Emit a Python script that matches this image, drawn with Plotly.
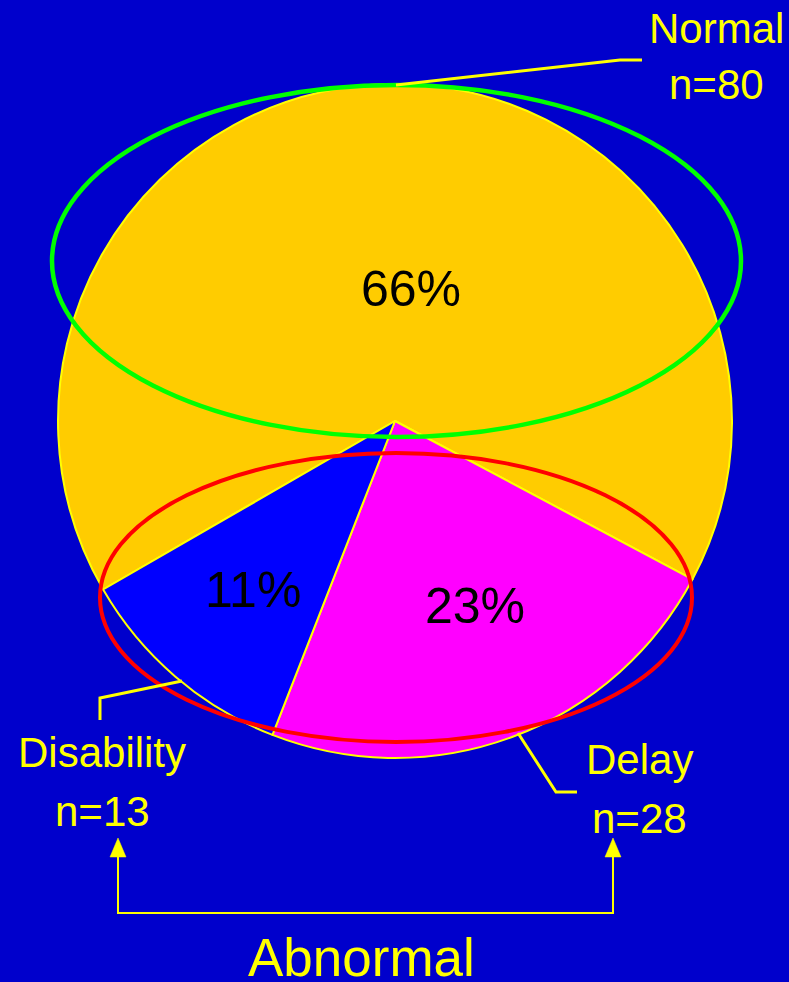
import plotly.graph_objects as go

# Group sizes (children) and slice styling
groups = ["Normal", "Delay", "Disability"]
counts = [80, 28, 13]
slice_colors = ["#FFCC00", "#FF00FF", "#0000FF"]

W, H = 789, 982
BG = "#0000CC"
YELLOW = "#FFFF00"
FONT = "Arial, Liberation Sans, sans-serif"


def px(x):
    return x / W


def py(y):
    return 1 - y / H


def path(points, close=False):
    s = "M " + " L ".join(f"{px(x):.5f},{py(y):.5f}" for x, y in points)
    return s + (" Z" if close else "")


total = sum(counts)
percents = [round(c / total * 100) for c in counts]

fig = go.Figure(
    go.Pie(
        labels=groups,
        values=counts,
        sort=False,
        direction="clockwise",
        rotation=240,
        marker=dict(colors=slice_colors, line=dict(color=YELLOW, width=2)),
        textinfo="none",
        hoverinfo="label+value+percent",
        showlegend=False,
        domain=dict(x=[px(58), px(732)], y=[py(758), py(84)]),
    )
)

shapes = []
# Group outlines: normal (green) and abnormal (red)
shapes.append(dict(type="circle", xref="paper", yref="paper",
                   x0=px(52), x1=px(741), y0=py(437), y1=py(85),
                   line=dict(color="#00FF00", width=4.5), layer="above"))
shapes.append(dict(type="circle", xref="paper", yref="paper",
                   x0=px(100), x1=px(692), y0=py(742), y1=py(453),
                   line=dict(color="#FF0000", width=4), layer="above"))

# Leader lines to the labels
for pts in ([(396, 85), (620, 60), (642, 60)],
            [(182, 681), (100, 698), (100, 720)],
            [(518, 733), (556, 792), (577, 792)]):
    shapes.append(dict(type="path", xref="paper", yref="paper", path=path(pts),
                       line=dict(color=YELLOW, width=3), layer="above"))

# Bracket joining the two abnormal groups
shapes.append(dict(type="path", xref="paper", yref="paper",
                   path=path([(118, 855), (118, 913), (613, 913), (613, 855)]),
                   line=dict(color=YELLOW, width=2), layer="above"))
for ax in (118, 613):
    shapes.append(dict(type="path", xref="paper", yref="paper",
                       path=path([(ax, 838), (ax - 8, 857), (ax + 8, 857)], close=True),
                       fillcolor=YELLOW, line=dict(color=YELLOW, width=0.5),
                       layer="above"))

annotations = []


def label(text, x, y, size, color=YELLOW):
    annotations.append(dict(text=text, x=px(x), y=py(y), xref="paper", yref="paper",
                            xanchor="center", yanchor="middle", showarrow=False,
                            font=dict(family=FONT, size=size, color=color)))


# Percentages inside the slices
pct_pos = {"Normal": (411, 289), "Delay": (475, 606), "Disability": (253, 590)}
for g, p in zip(groups, percents):
    label(f"{p}%", *pct_pos[g], 50, color="#000000")

# Group labels with counts
lab_pos = {"Normal": (716, 28, 84), "Disability": (102, 752, 811), "Delay": (639, 759, 818)}
for g, c in zip(groups, counts):
    x, y1, y2 = lab_pos[g]
    label(g, x, y1, 42)
    label(f"n={c}", x, y2, 42)

label("Abnormal", 361, 957, 53)

fig.update_layout(
    width=W, height=H,
    margin=dict(l=0, r=0, t=0, b=0),
    paper_bgcolor=BG, plot_bgcolor=BG,
    shapes=shapes, annotations=annotations,
)

fig.write_html("out.html")
